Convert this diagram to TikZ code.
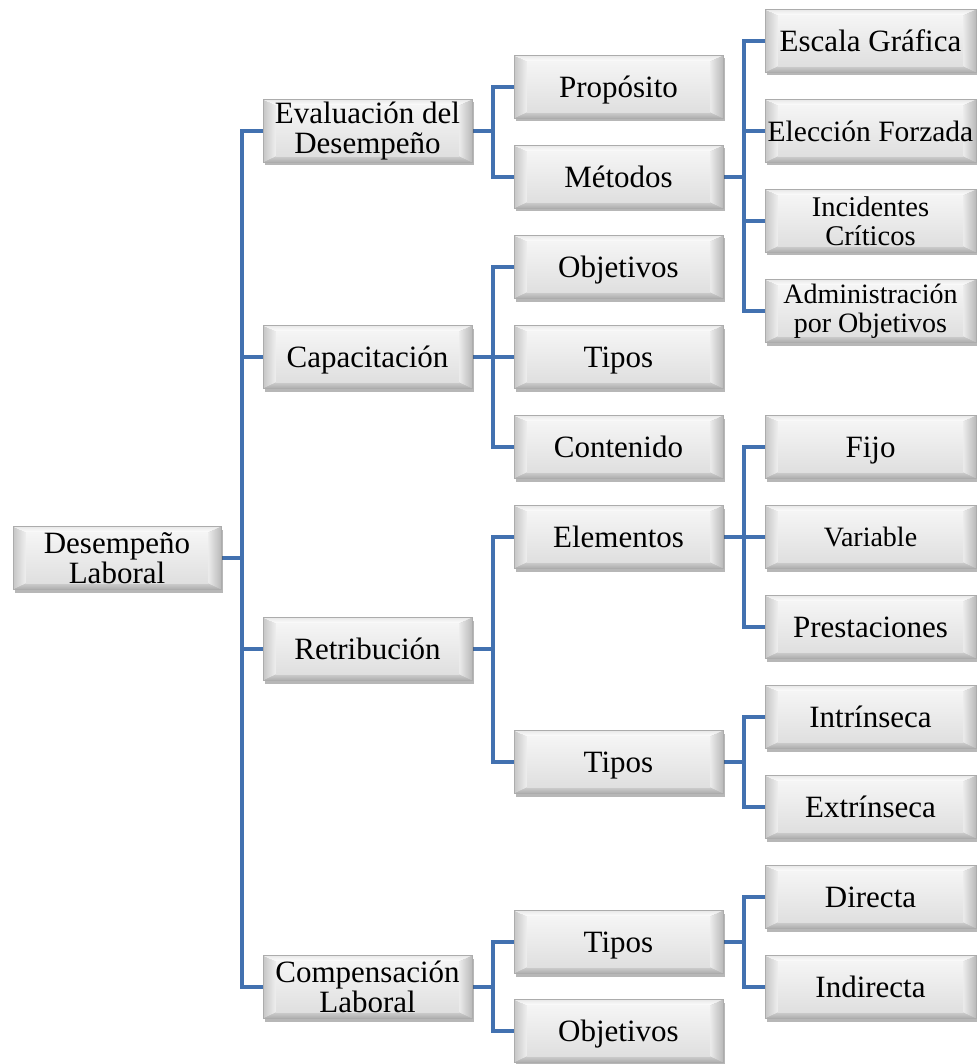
\documentclass[tikz,border=0pt]{standalone}
\usepackage{fontspec}
\setmainfont{Liberation Serif}
\usetikzlibrary{shadows,backgrounds}
\definecolor{linkblue}{HTML}{4271B0}
\newcommand\fsz[2]{\fontsize{#1}{#2}\selectfont}
\tikzset{
  bev/.style={rectangle, minimum width=209pt, minimum height=63pt, inner sep=0pt,
    align=center, font=\fsz{31}{30}, draw=gray!65, line width=0.6pt, text depth=0pt,
    drop shadow={shadow xshift=1.5pt, shadow yshift=-3pt, opacity=0.4, fill=black!70},
    path picture={
      \path (path picture bounding box.south west) coordinate (o1)
            (path picture bounding box.north west) coordinate (o2)
            (path picture bounding box.north east) coordinate (o3)
            (path picture bounding box.south east) coordinate (o4);
      \path (o1) ++(13pt,6pt) coordinate (i1)
            (o2) ++(13pt,-6pt) coordinate (i2)
            (o3) ++(-13pt,-6pt) coordinate (i3)
            (o4) ++(-13pt,6pt) coordinate (i4);
      \shade[left color=gray!45, right color=gray!12] (o1) -- (o2) -- (i2) -- (i1) -- cycle;
      \shade[top color=gray!18, bottom color=white] (o2) -- (o3) -- (i3) -- (i2) -- cycle;
      \shade[left color=gray!15, right color=gray!55] (o3) -- (o4) -- (i4) -- (i3) -- cycle;
      \shade[top color=gray!40, bottom color=gray!65] (o4) -- (o1) -- (i1) -- (i4) -- cycle;
      \shade[top color=gray!8, middle color=white, bottom color=gray!25] (i1) rectangle (i3);
    }},
  two/.style={text depth=},
  wide/.style={bev, minimum width=211pt},
  conn/.style={draw=linkblue, line width=4pt},
}
\begin{document}
\begin{tikzpicture}[x=1pt,y=-1pt]
\useasboundingbox (0,0) rectangle (976,1064);

% root
\node[bev, two, minimum width=208pt] (root) at (117,558) {Desempeño\\Laboral};

% first level
\node[bev, two] (eval) at (367.5,131) {Evaluación del\\Desempeño};
\node[bev] (capa) at (367.5,357) {Capacitación};
\node[bev] (retr) at (367.5,649) {Retribución};
\node[bev, two] (comp) at (367.5,987) {Compensación\\Laboral};

% second level
\node[bev] (prop) at (618.5,87)   {Propósito};
\node[bev] (meto) at (618.5,177)  {Métodos};
\node[bev] (obja) at (618.5,267)  {Objetivos};
\node[bev] (tipa) at (618.5,357)  {Tipos};
\node[bev] (cont) at (618.5,447)  {Contenido};
\node[bev] (elem) at (618.5,537)  {Elementos};
\node[bev] (tipb) at (618.5,762)  {Tipos};
\node[bev] (tipc) at (618.5,942)  {Tipos};
\node[bev] (objc) at (618.5,1031) {Objetivos};

% third level
\node[wide] (esca) at (870.5,41)  {Escala Gráfica};
\node[wide, font=\fsz{29.5}{31}] (elec) at (870.5,131) {Elección Forzada};
\node[wide, two, font=\fsz{28.5}{29}] (inci) at (870.5,221) {Incidentes\\Críticos};
\node[wide, two, font=\fsz{28}{29}] (admi) at (870.5,311) {Administración\\por Objetivos};
\node[wide] (fijo) at (870.5,447) {Fijo};
\node[wide, font=\fsz{28}{28}] (vari) at (870.5,537) {Variable};
\node[wide] (pres) at (870.5,627) {Prestaciones};
\node[wide] (intr) at (870.5,717) {Intrínseca};
\node[wide] (extr) at (870.5,807) {Extrínseca};
\node[wide] (dire) at (870.5,897) {Directa};
\node[wide] (indi) at (870.5,987) {Indirecta};

% elbow connectors
\begin{scope}[on background layer]
  \foreach \p/\c in {root/eval, root/capa, root/retr, root/comp,
                     eval/prop, eval/meto,
                     capa/obja, capa/tipa, capa/cont,
                     retr/elem, retr/tipb,
                     comp/tipc, comp/objc,
                     meto/esca, meto/elec, meto/inci, meto/admi,
                     elem/fijo, elem/vari, elem/pres,
                     tipb/intr, tipb/extr,
                     tipc/dire, tipc/indi}
    \draw[conn] (\p.east) -- ++(21,0) |- (\c.west);
\end{scope}
\end{tikzpicture}
\end{document}
